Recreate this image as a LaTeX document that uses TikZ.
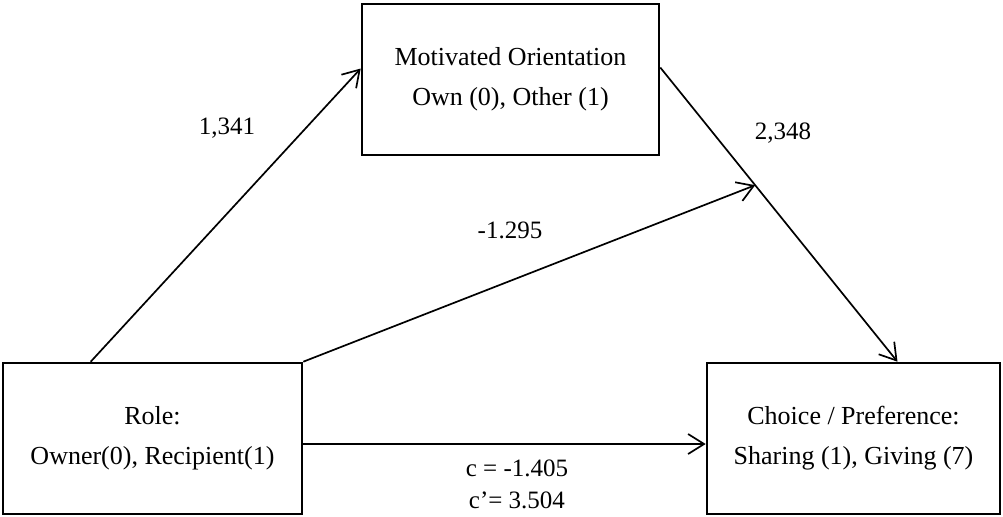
\documentclass[tikz,border=0pt]{standalone}
\usepackage{fontspec}
\setmainfont{Liberation Serif}
\usetikzlibrary{arrows.meta}
\tikzset{
  >={Straight Barb[length=8pt,width=10pt]},
  varbox/.style={draw,line width=1.3pt,minimum height=75.5pt,align=center,
    font=\fontsize{13}{20}\selectfont},
  path/.style={->,line width=0.85pt},
  coef/.style={align=center,font=\fontsize{12.5}{16}\selectfont},
}

\begin{document}
\begin{tikzpicture}[x=0.5pt,y=-0.5pt]
    \useasboundingbox (0,0) rectangle (1003,516);
    % variables
    \node[varbox,minimum width=148.5pt] (motiv) at (510.5,79.5)
      {Motivated Orientation\\Own (0), Other (1)};
    \node[varbox,minimum width=149.5pt] (role) at (152.5,438.5)
      {Role:\\Owner(0), Recipient(1)};
    \node[varbox,minimum width=146.5pt] (choice) at (853.5,438.5)
      {Choice / Preference:\\Sharing (1), Giving (7)};
    % paths
    \draw[path] ([xshift=44.5pt]role.north west) -- ([yshift=5.5pt]motiv.west);
    \draw[path] ([yshift=6pt]motiv.east) -- ([xshift=22pt]choice.north)
      coordinate[pos=0.4] (mid);
    \draw[path] (role.north east) -- (mid);
    \draw[path] ([yshift=-2.75pt]role.east) -- ([yshift=-2.75pt]choice.west);
    % coefficients
    \node[coef] (a) at (227,128) {1,341};
    \node[coef] (b) at (783,133) {2,348};
    \node[coef] (cd) at (510,230) {-1.295};
    \node[coef] (c) at (517,484) {c = -1.405\\c’= 3.504};
  \end{tikzpicture}
\end{document}
